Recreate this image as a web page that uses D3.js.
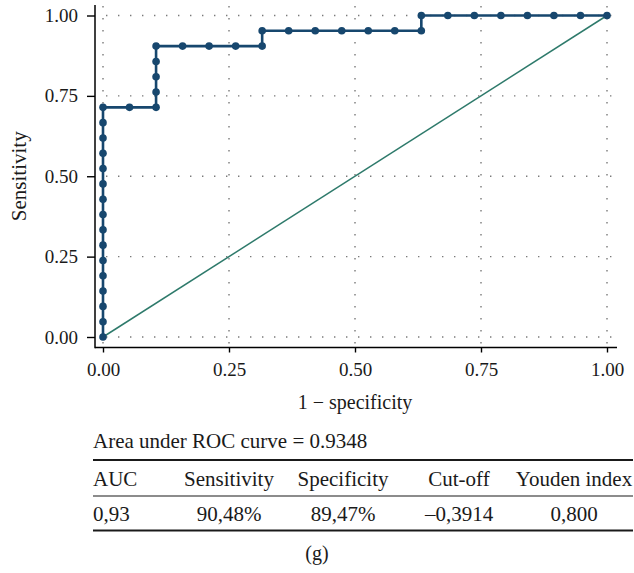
<!DOCTYPE html>
<html>
<head>
<meta charset="utf-8">
<script src="https://cdn.jsdelivr.net/npm/d3@7"></script>
<style>
  html, body { margin: 0; padding: 0; background: #fff; }
  svg { display: block; }
  text { font-family: "Liberation Serif", "Times New Roman", serif; fill: #1a1a1a; }
</style>
</head>
<body>
<svg id="chart" width="634" height="573"></svg>
<script>
// ROC curve coordinates (1 - specificity, sensitivity)
const fpr = [
  0, 0, 0, 0, 0, 0, 0, 0, 0, 0, 0, 0, 0, 0, 0, 0,
  0.0526, 0.1053, 0.1053, 0.1053, 0.1053, 0.1053,
  0.1579, 0.2105, 0.2632, 0.3158, 0.3158,
  0.3684, 0.4211, 0.4737, 0.5263, 0.5789, 0.6316, 0.6316,
  0.6842, 0.7368, 0.7895, 0.8421, 0.8947, 0.9474, 1.0
];
const tpr = [
  0, 0.0476, 0.0952, 0.1429, 0.1905, 0.2381, 0.2857, 0.3333,
  0.3810, 0.4286, 0.4762, 0.5238, 0.5714, 0.6190, 0.6667, 0.7143,
  0.7143, 0.7143, 0.7619, 0.8095, 0.8571, 0.9048,
  0.9048, 0.9048, 0.9048, 0.9048, 0.9524,
  0.9524, 0.9524, 0.9524, 0.9524, 0.9524, 0.9524, 1.0,
  1.0, 1.0, 1.0, 1.0, 1.0, 1.0, 1.0
];
// Reference (chance) line
const chanceX = [0, 1];
const chanceY = [0, 1];

const tickValues = [0, 0.25, 0.5, 0.75, 1];
const tickLabels = ["0.00", "0.25", "0.50", "0.75", "1.00"];

const xTitle = "1 \u2212 specificity";
const yTitle = "Sensitivity";

// Summary table
const aucCaption = "Area under ROC curve = 0.9348";
const tableHeaders = ["AUC", "Sensitivity", "Specificity", "Cut-off", "Youden index"];
const tableValues = ["0,93", "90,48%", "89,47%", "\u20130,3914", "0,800"];
const panelLabel = "(g)";

const svg = d3.select("#chart");

const x = d3.scaleLinear().domain([0, 1]).range([103, 607]);
const y = d3.scaleLinear().domain([0, 1]).range([337, 15.5]);

const axisLeftX = 95, axisBottomY = 347.5;
const plotTop = 5, plotRight = 617;

// Dotted grid
const grid = svg.append("g")
  .attr("stroke", "#7a7a7a")
  .attr("stroke-width", 1.4)
  .attr("stroke-dasharray", "1.4,10.6");
grid.selectAll("line.v").data(tickValues).join("line")
  .attr("class", "v")
  .attr("x1", d => x(d)).attr("x2", d => x(d))
  .attr("y1", plotTop + 1).attr("y2", axisBottomY);
grid.selectAll("line.h").data(tickValues).join("line")
  .attr("class", "h")
  .attr("x1", x(0) + 3).attr("x2", plotRight)
  .attr("y1", d => y(d)).attr("y2", d => y(d));

// Axes
const yAxis = d3.axisLeft(y).tickValues(tickValues)
  .tickFormat((d, i) => tickLabels[i]).tickSize(8).tickPadding(9);
const yg = svg.append("g").attr("transform", `translate(${axisLeftX},0)`).call(yAxis);
yg.select(".domain").remove();
yg.selectAll("line").attr("stroke", "#000").attr("stroke-width", 1.4);
yg.selectAll("text").attr("font-size", 19).attr("fill", "#1a1a1a")
  .attr("font-family", "Liberation Serif, serif");

const xAxis = d3.axisBottom(x).tickValues(tickValues)
  .tickFormat((d, i) => tickLabels[i]).tickSize(5).tickPadding(10);
const xg = svg.append("g").attr("transform", `translate(0,${axisBottomY})`).call(xAxis);
xg.select(".domain").remove();
xg.selectAll("line").attr("stroke", "#000").attr("stroke-width", 1.4);
xg.selectAll("text").attr("font-size", 19).attr("fill", "#1a1a1a")
  .attr("font-family", "Liberation Serif, serif");

// Axis lines
svg.append("line")
  .attr("x1", axisLeftX).attr("x2", axisLeftX)
  .attr("y1", plotTop).attr("y2", axisBottomY + 0.7)
  .attr("stroke", "#000").attr("stroke-width", 1.5);
svg.append("line")
  .attr("x1", axisLeftX).attr("x2", plotRight)
  .attr("y1", axisBottomY).attr("y2", axisBottomY)
  .attr("stroke", "#000").attr("stroke-width", 1.5);

// Axis titles
svg.append("text")
  .attr("x", (x(0) + x(1)) / 2).attr("y", 409)
  .attr("text-anchor", "middle").attr("font-size", 20)
  .text(xTitle);
svg.append("text")
  .attr("transform", `translate(26,${(y(0) + y(1)) / 2}) rotate(-90)`)
  .attr("text-anchor", "middle").attr("font-size", 21)
  .text(yTitle);

// Chance diagonal
svg.append("path")
  .datum(chanceX.map((d, i) => [d, chanceY[i]]))
  .attr("d", d3.line().x(d => x(d[0])).y(d => y(d[1])))
  .attr("fill", "none").attr("stroke", "#2e7a6b").attr("stroke-width", 1.5);

// ROC curve
const roc = fpr.map((d, i) => [d, tpr[i]]);
const curveColor = "#17476e";
svg.append("path")
  .datum(roc)
  .attr("d", d3.line().x(d => x(d[0])).y(d => y(d[1])))
  .attr("fill", "none").attr("stroke", curveColor).attr("stroke-width", 2.6)
  .attr("stroke-linejoin", "round");
svg.append("g").selectAll("circle").data(roc).join("circle")
  .attr("cx", d => x(d[0])).attr("cy", d => y(d[1]))
  .attr("r", 3.8).attr("fill", curveColor);

// Summary table
const tableLeft = 93, tableRight = 633;
const colCenters = [null, 229, 343, 459, 574];
svg.append("text").attr("x", tableLeft).attr("y", 448)
  .attr("font-size", 21).text(aucCaption);

const rules = [[460, 1.8], [496, 1.2], [530.5, 1.8]];
svg.selectAll("line.rule").data(rules).join("line")
  .attr("class", "rule")
  .attr("x1", tableLeft).attr("x2", tableRight)
  .attr("y1", d => d[0]).attr("y2", d => d[0])
  .attr("stroke", "#1a1a1a").attr("stroke-width", d => d[1]);

function tableRow(cells, baseline) {
  svg.append("g").selectAll("text").data(cells).join("text")
    .attr("x", (d, i) => i === 0 ? tableLeft : colCenters[i])
    .attr("y", baseline)
    .attr("text-anchor", (d, i) => i === 0 ? "start" : "middle")
    .attr("font-size", 21)
    .text(d => d);
}
tableRow(tableHeaders, 486);
tableRow(tableValues, 521);

svg.append("text").attr("x", 317).attr("y", 560)
  .attr("text-anchor", "middle").attr("font-size", 20)
  .text(panelLabel);
</script>
</body>
</html>
